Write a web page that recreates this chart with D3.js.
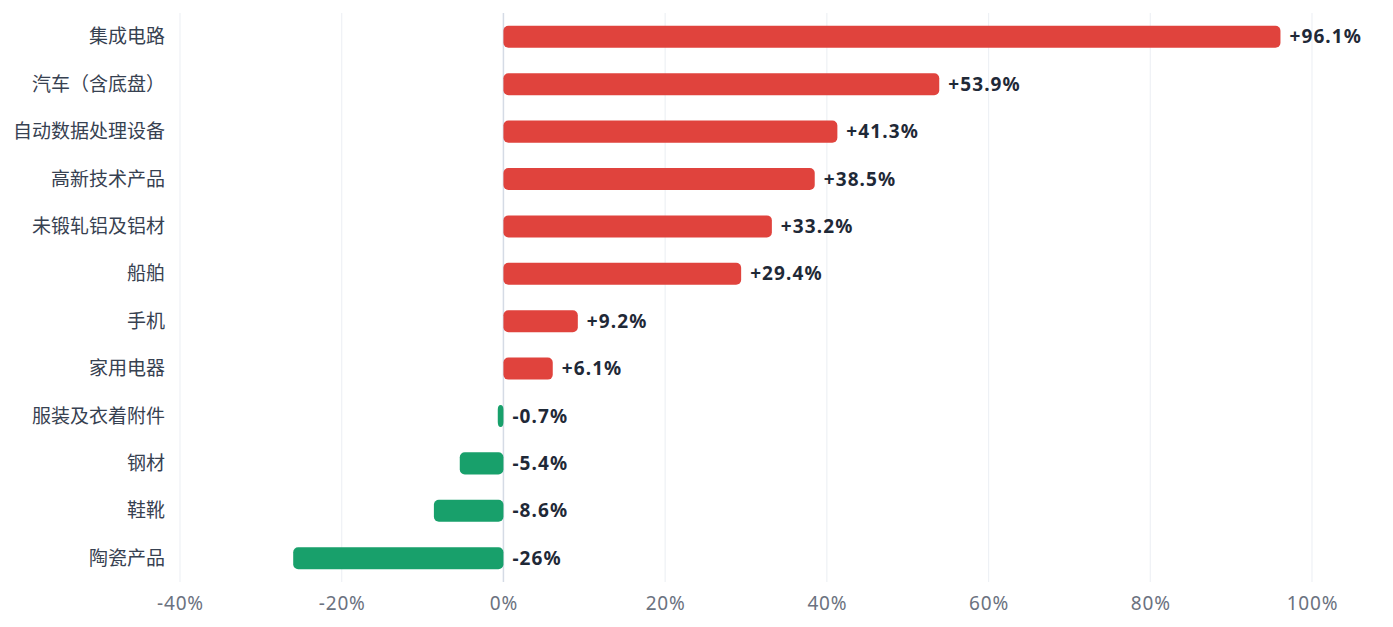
<!DOCTYPE html>
<html lang="zh">
<head>
  <meta charset="UTF-8" />
  <title>出口增速</title>
  <script src="https://cdn.jsdelivr.net/npm/d3@7"></script>
  <style>
    body {
      margin: 0;
      background: #ffffff;
      font-family: "Noto Sans CJK SC", "Noto Sans", sans-serif;
    }
  </style>
</head>
<body>
<div id="chart"></div>
<script>
const categories = ["集成电路", "汽车（含底盘）", "自动数据处理设备", "高新技术产品", "未锻轧铝及铝材",
  "船舶", "手机", "家用电器", "服装及衣着附件", "钢材", "鞋靴", "陶瓷产品"];
const growth = [96.1, 53.9, 41.3, 38.5, 33.2, 29.4, 9.2, 6.1, -0.7, -5.4, -8.6, -26];
const valueLabels = ["+96.1%", "+53.9%", "+41.3%", "+38.5%", "+33.2%", "+29.4%", "+9.2%", "+6.1%",
  "-0.7%", "-5.4%", "-8.6%", "-26%"];
const xTicks = [-40, -20, 0, 20, 40, 60, 80, 100];

const W = 1393, H = 627;
const margin = { top: 13, right: 81, bottom: 45, left: 180 };
const width = W - margin.left - margin.right;
const height = H - margin.top - margin.bottom;

const svg = d3.select("#chart").append("svg")
  .attr("width", W)
  .attr("height", H);

const g = svg.append("g")
  .attr("transform", `translate(${margin.left},${margin.top})`);

const x = d3.scaleLinear().domain([-40, 100]).range([0, width]);
const y = d3.scaleBand().domain(categories).range([0, height]).paddingInner(0.535).paddingOuter(0.27);

// grid
g.selectAll(".grid")
  .data(xTicks)
  .join("line")
  .attr("class", "grid")
  .attr("x1", d => x(d)).attr("x2", d => x(d))
  .attr("y1", 0).attr("y2", height)
  .attr("stroke", d => d === 0 ? "#d5dbe5" : "#eef1f5")
  .attr("stroke-width", d => d === 0 ? 1.5 : 1.2);

// x axis
const xAxis = g.append("g")
  .attr("transform", `translate(0,${height})`)
  .call(d3.axisBottom(x).tickValues(xTicks).tickFormat(d => d + "%").tickSize(0).tickPadding(15));
xAxis.select(".domain").remove();
xAxis.selectAll("text")
  .attr("fill", "#6b7280")
  .style("font-size", "19px")
  .style("letter-spacing", "0.8px")
  .style("font-family", "'Noto Sans', 'Open Sans', sans-serif");

// category labels
g.selectAll(".cat")
  .data(categories)
  .join("text")
  .attr("class", "cat")
  .attr("x", -15)
  .attr("y", d => y(d) + y.bandwidth() / 2)
  .attr("dy", "0.35em")
  .attr("text-anchor", "end")
  .attr("fill", "#374151")
  .style("font-size", "19px")
  .text(d => d);

// bars
g.selectAll(".bar")
  .data(growth)
  .join("rect")
  .attr("class", "bar")
  .attr("x", d => x(Math.min(0, d)))
  .attr("y", (d, i) => y(categories[i]))
  .attr("width", d => Math.abs(x(d) - x(0)))
  .attr("height", y.bandwidth())
  .attr("rx", 5).attr("ry", 5)
  .attr("fill", d => d >= 0 ? "#e0433d" : "#18a06b");

// value labels
g.selectAll(".val")
  .data(growth)
  .join("text")
  .attr("class", "val")
  .attr("x", d => x(Math.max(0, d)) + 9)
  .attr("y", (d, i) => y(categories[i]) + y.bandwidth() / 2)
  .attr("dy", "0.35em")
  .attr("fill", "#1f2937")
  .style("font-size", "19px")
  .style("font-weight", "bold")
  .style("letter-spacing", "1.1px")
  .style("font-family", "'Noto Sans', 'Open Sans', sans-serif")
  .text((d, i) => valueLabels[i]);
</script>
</body>
</html>
